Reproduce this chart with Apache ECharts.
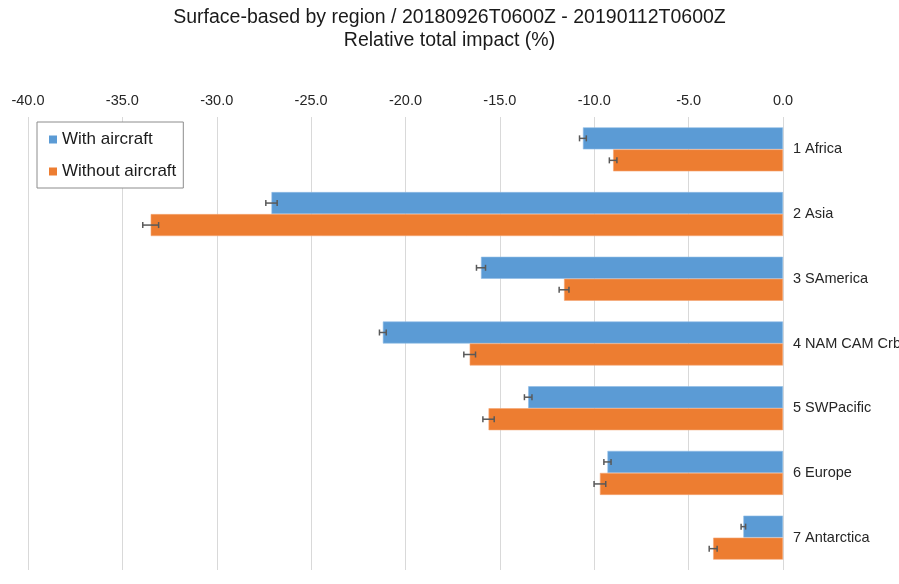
<!DOCTYPE html>
<html>
<head>
<meta charset="utf-8">
<style>
  html, body { margin: 0; padding: 0; background: #fff; }
  #chart { width: 899px; height: 584px; }
</style>
<script src="https://cdn.jsdelivr.net/npm/echarts@6/dist/echarts.min.js"></script>
</head>
<body>
<div id="chart"></div>
<script>
// Regions, top to bottom
const categories = ['1 Africa', '2 Asia', '3 SAmerica', '4 NAM CAM Crb', '5 SWPacific', '6 Europe', '7 Antarctica'];

// Relative total impact (%) and its uncertainty
const withAircraft = [-10.6, -27.1, -16.0, -21.2, -13.5, -9.3, -2.1];
const withAircraftErr = [0.18, 0.30, 0.24, 0.18, 0.20, 0.19, 0.12];
const withoutAircraft = [-9.0, -33.5, -11.6, -16.6, -15.6, -9.7, -3.7];
const withoutAircraftErr = [0.20, 0.42, 0.26, 0.31, 0.30, 0.31, 0.21];

const xTicks = { min: -40, max: 0, step: 5 };

const BAR_GAP = 0.32;
const BLUE = '#5B9BD5';
const ORANGE = '#ED7D31';
const FONT = 'Liberation Sans, Arial, sans-serif';

// Draws a horizontal error bar with caps at the end of each bar.
// side = -1 for the upper bar of a pair, +1 for the lower one.
function errorBars(side) {
  return function (params, api) {
    const val = api.value(0);
    const cat = api.value(1);
    const err = api.value(2);
    const band = api.size([0, 1])[1];
    const barW = band * (1 - BAR_GAP) / 2;
    const a = api.coord([val - err, cat]);
    const b = api.coord([val + err, cat]);
    const y = a[1] + side * barW / 2;
    const cap = 3;
    const style = { stroke: '#595959', lineWidth: 1.5 };
    return {
      type: 'group',
      children: [
        { type: 'line', shape: { x1: a[0], y1: y, x2: b[0], y2: y }, style: style },
        { type: 'line', shape: { x1: a[0], y1: y - cap, x2: a[0], y2: y + cap }, style: style },
        { type: 'line', shape: { x1: b[0], y1: y - cap, x2: b[0], y2: y + cap }, style: style }
      ]
    };
  };
}

const chart = echarts.init(document.getElementById('chart'), null, { renderer: 'canvas' });

chart.setOption({
  animation: false,
  textStyle: { fontFamily: FONT },
  title: {
    text: 'Surface-based by region / 20180926T0600Z - 20190112T0600Z\nRelative total impact (%)',
    left: 'center',
    top: 1,
    textStyle: { fontFamily: FONT, fontSize: 19.5, fontWeight: 'normal', color: '#1a1a1a', lineHeight: 23 }
  },
  legend: {
    orient: 'vertical',
    left: 37,
    top: 122,
    padding: [9, 7, 8, 12],
    itemWidth: 8,
    itemHeight: 8,
    itemGap: 15,
    icon: 'rect',
    itemStyle: { borderWidth: 0 },
    backgroundColor: '#fff',
    borderColor: '#8c8c8c',
    borderWidth: 1,
    textStyle: { fontFamily: FONT, fontSize: 17, color: '#1a1a1a' },
    data: ['With aircraft', 'Without aircraft']
  },
  grid: { left: 28, right: 116, top: 117, bottom: 14, containLabel: false, outerBoundsMode: 'none' },
  xAxis: {
    type: 'value',
    position: 'top',
    min: xTicks.min,
    max: xTicks.max,
    interval: xTicks.step,
    axisLine: { show: false },
    axisTick: { show: false },
    axisLabel: {
      margin: 9,
      fontFamily: FONT,
      fontSize: 14.5,
      color: '#262626',
      formatter: v => v.toFixed(1)
    },
    splitLine: { show: true, lineStyle: { color: '#d9d9d9', width: 1 } }
  },
  yAxis: {
    type: 'category',
    data: categories,
    inverse: true,
    position: 'right',
    axisLine: { show: false },
    axisTick: { show: false },
    axisLabel: { margin: 10, fontFamily: FONT, fontSize: 14.5, color: '#262626' }
  },
  series: [
    {
      name: 'With aircraft',
      type: 'bar',
      data: withAircraft,
      barGap: '0%',
      barCategoryGap: (BAR_GAP * 100) + '%',
      itemStyle: { color: BLUE, borderColor: '#8fbce6', borderWidth: 0.6 }
    },
    {
      name: 'Without aircraft',
      type: 'bar',
      data: withoutAircraft,
      barGap: '0%',
      barCategoryGap: (BAR_GAP * 100) + '%',
      itemStyle: { color: ORANGE, borderColor: '#f5a673', borderWidth: 0.6 }
    },
    {
      type: 'custom',
      renderItem: errorBars(-1),
      encode: { x: 0, y: 1 },
      data: withAircraft.map((v, i) => [v, i, withAircraftErr[i]]),
      z: 5
    },
    {
      type: 'custom',
      renderItem: errorBars(1),
      encode: { x: 0, y: 1 },
      data: withoutAircraft.map((v, i) => [v, i, withoutAircraftErr[i]]),
      z: 5
    }
  ]
});
</script>
</body>
</html>
